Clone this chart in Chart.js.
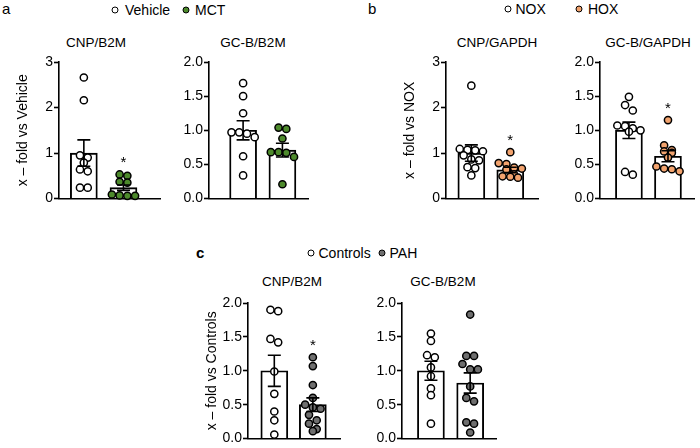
<!DOCTYPE html>
<html>
<head>
<meta charset="utf-8">
<script src="https://cdn.jsdelivr.net/npm/chart.js@4.4.1/dist/chart.umd.min.js"></script>
<style>
  body { margin: 0; background: #fff; }
  #page { position: relative; width: 700px; height: 448px; overflow: hidden; font-family: "Liberation Sans", Arial, sans-serif; color: #000; }
  .box { position: absolute; }
  .title { position: absolute; font-size: 13.5px; line-height: 14px; white-space: nowrap; transform: translate(-50%, -50%); }
  .letter { position: absolute; font-size: 15px; line-height: 15px; }
  .leg { position: absolute; font-size: 14px; line-height: 14px; white-space: nowrap; transform: translateY(-50%); }
  .dot { position: absolute; width: 5px; height: 5px; border: 1.4px solid #000; border-radius: 50%; transform: translate(-50%, -50%); }
</style>
</head>
<body>
<div id="page"></div>
<script>
// groups
const groupsA = ["Vehicle", "MCT"];
const groupsB = ["NOX", "HOX"];
const groupsC = ["Controls", "PAH"];

// a: CNP/B2M and GC-B/B2M
const aCnpVehicle = [2.66, 2.16, 0.95, 0.90, 0.79, 0.64, 0.60, 0.24, 0.24];
const aCnpMct = [0.53, 0.50, 0.37, 0.35, 0.09, 0.06, 0.06, 0.07];
const aCnpMean = [1.0, 0.24];
const aCnpSem = [0.29, 0.06];
const aCnpSig = [false, true];

const aGcVehicle = [1.69, 1.50, 1.25, 0.97, 0.97, 0.95, 0.90, 0.62, 0.34];
const aGcMct = [1.04, 1.02, 0.88, 0.68, 0.68, 0.67, 0.61, 0.21];
const aGcMean = [1.0, 0.71];
const aGcSem = [0.14, 0.10];
const aGcSig = [false, false];

// b: CNP/GAPDH and GC-B/GAPDH
const bCnpNox = [2.48, 1.09, 1.07, 1.06, 1.04, 0.95, 0.86, 0.84, 0.69, 0.67, 0.51];
const bCnpHox = [1.02, 0.78, 0.76, 0.68, 0.66, 0.64, 0.53, 0.49, 0.48, 0.46];
const bCnpMean = [1.0, 0.63];
const bCnpSem = [0.18, 0.06];
const bCnpSig = [false, true];

const bGcNox = [1.49, 1.37, 1.29, 1.07, 1.06, 1.03, 1.00, 0.98, 0.39, 0.35];
const bGcHox = [1.15, 0.78, 0.71, 0.69, 0.67, 0.60, 0.47, 0.44, 0.43, 0.40];
const bGcMean = [1.0, 0.62];
const bGcSem = [0.12, 0.08];
const bGcSig = [false, true];

// c: CNP/B2M and GC-B/B2M
const cCnpControls = [1.90, 1.88, 1.47, 1.42, 0.99, 0.66, 0.40, 0.27, 0.06];
const cCnpPah = [1.20, 1.07, 0.79, 0.60, 0.50, 0.46, 0.44, 0.35, 0.27, 0.22, 0.14, 0.11];
const cCnpMean = [1.0, 0.50];
const cCnpSem = [0.23, 0.10];
const cCnpSig = [false, true];

const cGcControls = [1.55, 1.44, 1.23, 1.20, 1.05, 0.92, 0.74, 0.64, 0.22];
const cGcPah = [1.83, 1.22, 1.22, 1.10, 1.02, 1.02, 0.77, 0.60, 0.55, 0.24, 0.22, 0.09];
const cGcMean = [1.0, 0.82];
const cGcSem = [0.14, 0.15];
const cGcSig = [false, false];

// y ticks
const ticks3 = [0, 1, 2, 3];
const tickLabels3 = ["0", "1", "2", "3"];
const ticks2 = [0, 0.5, 1, 1.5, 2];
const tickLabels2 = ["0.0", "0.5", "1.0", "1.5", "2.0"];

const green = "#4d8a2c";
const orange = "#f2a36e";
const grey = "#6f6f6f";

Chart.defaults.font.family = '"Liberation Sans", Arial, sans-serif';
Chart.defaults.color = "#000";

const page = document.getElementById("page");

function addText(cls, text, x, y) {
    const el = document.createElement("div");
    el.className = cls;
    el.textContent = text;
    el.style.left = x + "px";
    el.style.top = y + "px";
    page.appendChild(el);
    return el;
}

function addDot(x, y, fill) {
    const el = document.createElement("div");
    el.className = "dot";
    el.style.left = x + "px";
    el.style.top = y + "px";
    el.style.background = fill;
    page.appendChild(el);
}

// panel letters and legends
addText("letter", "a", 2, 1);
addText("letter", "b", 368, 1);
addText("letter", "c", 196, 245).style.fontWeight = "bold";

addDot(114.5, 9.5, "#fff"); addText("leg", groupsA[0], 125, 9.5);
addDot(186, 9.5, green); addText("leg", groupsA[1], 195, 9.5);
addDot(508.3, 8.5, "#fff"); addText("leg", groupsB[0], 515.5, 8.5);
addDot(579.3, 8.5, orange); addText("leg", groupsB[1], 588, 8.5);
addDot(310.7, 253, "#fff"); addText("leg", groupsC[0], 318.5, 253);
addDot(381.7, 253, grey); addText("leg", groupsC[1], 389.5, 253);

// rows of near-equal values spread sideways around the bar centre (px offsets)
function swarm(values, pxPerY, gap) {
    const order = values.map((v, i) => i).sort((a, b) => values[b] - values[a]);
    const offs = new Array(values.length).fill(0);
    let row = [];
    const flush = () => {
        row.forEach((idx, k) => { offs[idx] = (k - (row.length - 1) / 2) * gap; });
        row = [];
    };
    order.forEach(idx => {
        if (row.length && (values[row[0]] - values[idx]) * pxPerY > gap * 0.7) flush();
        row.push(idx);
    });
    flush();
    return offs;
}

function meanSemPlugin(mean, sem, sig, groups) {
    return {
        id: "meanSem",
        afterDatasetsDraw(chart) {
            const {ctx, scales: {x, y}} = chart;
            ctx.save();
            ctx.strokeStyle = "#000";
            ctx.lineWidth = 1.6;
            mean.forEach((m, i) => {
                const cx = x.getPixelForValue(i);
                const top = y.getPixelForValue(m + sem[i]);
                const bot = y.getPixelForValue(m - sem[i]);
                ctx.beginPath();
                ctx.moveTo(cx, top); ctx.lineTo(cx, bot);
                ctx.moveTo(cx - 6.5, top); ctx.lineTo(cx + 6.5, top);
                ctx.moveTo(cx - 6.5, bot); ctx.lineTo(cx + 6.5, bot);
                ctx.stroke();
                if (sig[i]) {
                    const yMax = y.getPixelForValue(Math.max(...groups[i]));
                    ctx.fillStyle = "#000";
                    ctx.font = '15px "Liberation Sans", Arial, sans-serif';
                    ctx.textAlign = "center";
                    ctx.fillText("*", cx, yMax - 16 + 8.5);
                }
            });
            ctx.restore();
        }
    };
}

const panels = [
    {title: "CNP/B2M", yTitle: "x \u2013 fold vs " + groupsA[0], groups: [aCnpVehicle, aCnpMct], mean: aCnpMean, sem: aCnpSem, sig: aCnpSig,
     ticks: ticks3, labels: tickLabels3, fills: ["#fff", green], L: 59, R: 164, T: 62, B: 199, W: 44, x0: 84.7, x1: 125.7, tx: 96, ty: 43},
    {title: "GC-B/B2M", yTitle: "", groups: [aGcVehicle, aGcMct], mean: aGcMean, sem: aGcSem, sig: aGcSig,
     ticks: ticks2, labels: tickLabels2, fills: ["#fff", green], L: 209, R: 312, T: 62, B: 199, W: 34, x0: 244.3, x1: 285, tx: 253, ty: 43},
    {title: "CNP/GAPDH", yTitle: "x \u2013 fold vs " + groupsB[0], groups: [bCnpNox, bCnpHox], mean: bCnpMean, sem: bCnpSem, sig: bCnpSig,
     ticks: ticks3, labels: tickLabels3, fills: ["#fff", orange], L: 446, R: 542, T: 62, B: 199, W: 44, x0: 472.3, x1: 512.7, tx: 497, ty: 43},
    {title: "GC-B/GAPDH", yTitle: "", groups: [bGcNox, bGcHox], mean: bGcMean, sem: bGcSem, sig: bGcSig,
     ticks: ticks2, labels: tickLabels2, fills: ["#fff", orange], L: 600, R: 698, T: 62, B: 199, W: 34, x0: 630, x1: 670.5, tx: 648, ty: 43},
    {title: "CNP/B2M", yTitle: "x \u2013 fold vs " + groupsC[0], groups: [cCnpControls, cCnpPah], mean: cCnpMean, sem: cCnpSem, sig: cCnpSig,
     ticks: ticks2, labels: tickLabels2, fills: ["#fff", grey], L: 248, R: 344, T: 303, B: 439, W: 44, x0: 275.3, x1: 315.3, tx: 292, ty: 282},
    {title: "GC-B/B2M", yTitle: "", groups: [cGcControls, cGcPah], mean: cGcMean, sem: cGcSem, sig: cGcSig,
     ticks: ticks2, labels: tickLabels2, fills: ["#fff", grey], L: 402, R: 500, T: 303, B: 439, W: 34, x0: 432, x1: 472.7, tx: 443, ty: 282}
];

panels.forEach(p => {
    const padTop = 12, padBottom = 9, padRight = 2;
    const unit = p.x1 - p.x0;
    const xMin = -(p.x0 - p.L) / unit;
    const xMax = (p.R - p.x0) / unit;
    const yMax = p.ticks[p.ticks.length - 1];
    const pxPerY = (p.B - p.T) / yMax;

    const box = document.createElement("div");
    box.className = "box";
    box.style.left = (p.L - p.W) + "px";
    box.style.top = (p.T - padTop) + "px";
    box.style.width = (p.W + p.R - p.L + padRight) + "px";
    box.style.height = (padTop + p.B - p.T + padBottom) + "px";
    const canvas = document.createElement("canvas");
    box.appendChild(canvas);
    page.appendChild(box);

    addText("title", p.title, p.tx, p.ty);

    const pointSets = p.groups.map((vals, i) => {
        const offs = swarm(vals, pxPerY, 8);
        return {
            type: "scatter",
            data: vals.map((v, k) => ({x: i + offs[k] / unit, y: v})),
            backgroundColor: p.fills[i],
            borderColor: "#000",
            borderWidth: 1.5,
            pointRadius: 3.6,
            clip: false,
            order: 1
        };
    });

    new Chart(canvas, {
        type: "bar",
        data: {
            datasets: [
                {
                    type: "bar",
                    data: p.mean.map((m, i) => ({x: i, y: m})),
                    backgroundColor: "#fff",
                    borderColor: "#000",
                    borderWidth: 1.9,
                    barThickness: 27,
                    order: 3
                },
                ...pointSets
            ]
        },
        options: {
            responsive: true,
            maintainAspectRatio: false,
            animation: false,
            layout: {padding: {top: padTop, bottom: padBottom, right: padRight, left: 0}},
            plugins: {legend: {display: false}, tooltip: {enabled: false}},
            scales: {
                x: {
                    type: "linear",
                    min: xMin,
                    max: xMax,
                    offset: false,
                    ticks: {display: false},
                    grid: {display: false},
                    border: {color: "#000", width: 1.6},
                    afterFit: s => { s.height = 0; }
                },
                y: {
                    min: 0,
                    max: yMax,
                    afterBuildTicks: s => { s.ticks = p.ticks.map(v => ({value: v})); },
                    ticks: {
                        font: {size: 14},
                        color: "#000",
                        padding: 1,
                        callback: (v, i) => p.labels[i]
                    },
                    grid: {drawOnChartArea: false, drawTicks: true, tickLength: 5, tickColor: "#000", tickWidth: 1.6},
                    border: {color: "#000", width: 1.6},
                    title: {display: p.yTitle !== "", text: p.yTitle, font: {size: 14}, color: "#000", padding: 0},
                    afterFit: s => { s.width = p.W; }
                }
            }
        },
        plugins: [meanSemPlugin(p.mean, p.sem, p.sig, p.groups)]
    });
});
</script>
</body>
</html>
